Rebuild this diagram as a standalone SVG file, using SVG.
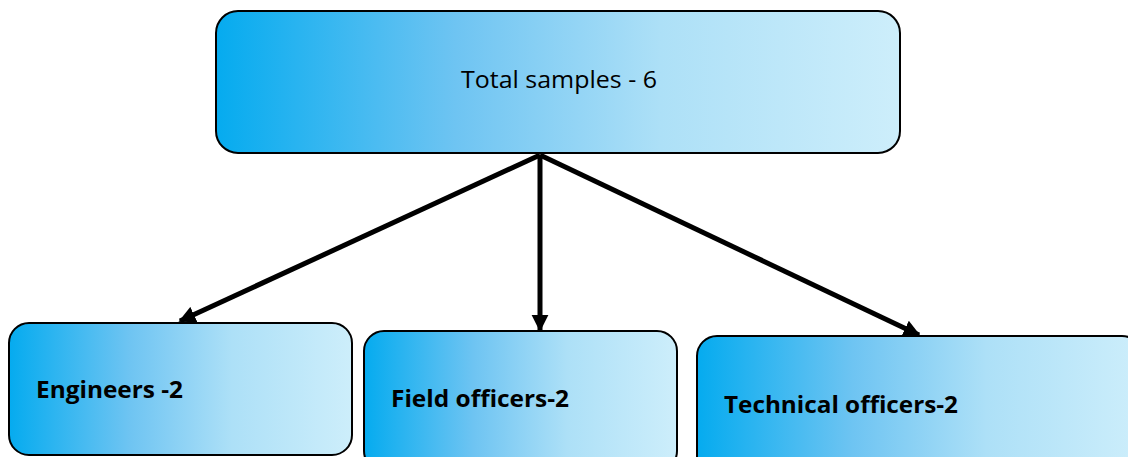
<svg xmlns="http://www.w3.org/2000/svg" width="1128" height="457" viewBox="0 0 1128 457">
  <defs>
    <linearGradient id="boxFill" x1="0" y1="0" x2="1" y2="0">
      <stop offset="0" stop-color="#05abef"/>
      <stop offset="0.35" stop-color="#6ec4f2"/>
      <stop offset="0.65" stop-color="#ade0f7"/>
      <stop offset="1" stop-color="#cdeefb"/>
    </linearGradient>
    <marker id="arrowHead" viewBox="0 0 10 10" refX="9" refY="5" markerWidth="3.4" markerHeight="3.6" markerUnits="strokeWidth" orient="auto">
      <path d="M0,0 L10,5 L0,10 Z" fill="#000"/>
    </marker>
  </defs>
  <style>
    .box { fill: url(#boxFill); stroke: #000; stroke-width: 2; }
    .title { font-family: "Open Sans", "Noto Sans", sans-serif; font-size: 24px; fill: #000; }
    .label { font-family: "Open Sans", "Noto Sans", sans-serif; font-size: 24px; font-weight: bold; fill: #000; }
    .conn { stroke: #000; stroke-width: 5; fill: none; marker-end: url(#arrowHead); }
  </style>
  <rect width="1128" height="457" fill="#fff"/>

  <g id="connectors">
    <line class="conn" x1="540" y1="155" x2="180" y2="321"/>
    <line class="conn" x1="540" y1="155" x2="540" y2="330"/>
    <line class="conn" x1="540" y1="155" x2="919" y2="335"/>
  </g>

  <g id="total">
    <rect class="box" x="216" y="11" width="684" height="142" rx="22"/>
    <text class="title" x="461" y="88" textLength="196" lengthAdjust="spacingAndGlyphs">Total samples - 6</text>
  </g>

  <g id="engineers">
    <rect class="box" x="9" y="323" width="343" height="132" rx="20"/>
    <text class="label" x="36" y="398" textLength="147" lengthAdjust="spacingAndGlyphs">Engineers -2</text>
  </g>

  <g id="field-officers">
    <rect class="box" x="364" y="331" width="313" height="140" rx="20"/>
    <text class="label" x="391" y="407" textLength="178" lengthAdjust="spacingAndGlyphs">Field officers-2</text>
  </g>

  <g id="technical-officers">
    <rect class="box" x="697" y="336" width="445" height="140" rx="20"/>
    <text class="label" x="724" y="413" textLength="234" lengthAdjust="spacingAndGlyphs">Technical officers-2</text>
  </g>
</svg>
